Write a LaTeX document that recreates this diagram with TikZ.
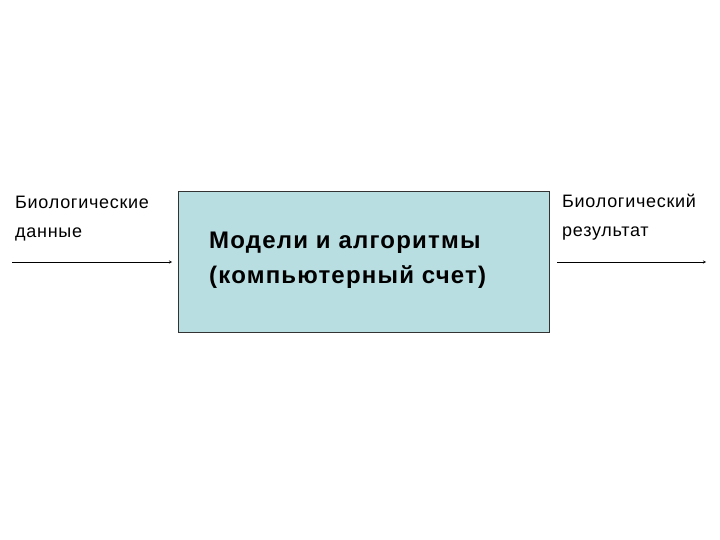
\documentclass[tikz,border=0pt]{standalone}
\usepackage{fontspec}
\setmainfont{Liberation Sans}
\begin{document}
\begin{tikzpicture}[x=1pt,y=-1pt,
  lbl/.style={anchor=north west,align=left,font=\fontsize{18}{29}\selectfont\addfontfeature{LetterSpace=4},inner sep=0pt},
  arr/.style={-stealth,thin}]
\useasboundingbox (0,0) rectangle (720,540);
\node[draw=black!80,fill={rgb,255:red,184;green,222;blue,226},minimum width=371pt,minimum height=141pt,anchor=north west,inner sep=0pt] (box) at (178,191) {};
\node[anchor=north west,align=left,font=\fontsize{24}{35}\selectfont\bfseries\addfontfeature{LetterSpace=5},inner sep=0pt] (t) at (209,232) {Модели и алгоритмы\\(компьютерный счет)};
\node[lbl] (l) at (15,196) {Биологические\\данные};
\node[lbl] (r) at (562,194) {Биологический\\результат};
\coordinate (a1) at (12,262);
\coordinate (a2) at (172,262);
\coordinate (b1) at (557,262);
\coordinate (b2) at (706,262);
\draw[arr] (a1) -- (a2);
\draw[arr] (b1) -- (b2);
\end{tikzpicture}
\end{document}
